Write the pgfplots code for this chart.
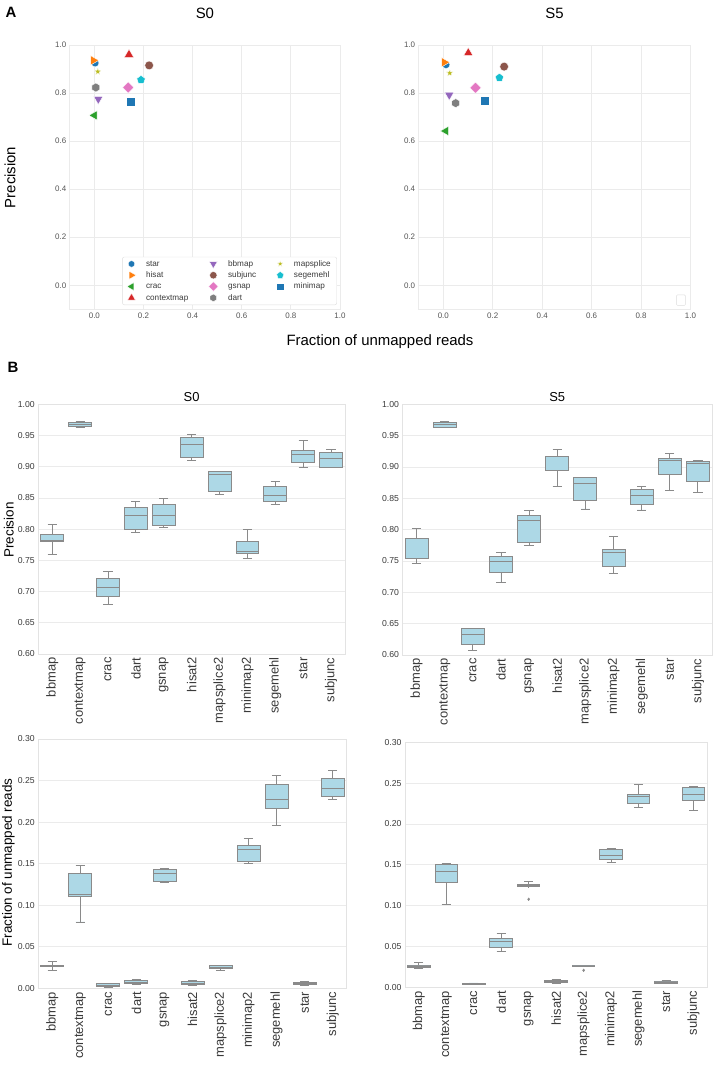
\documentclass[border=0pt]{standalone}
\usepackage{fontspec}
\setmainfont{Liberation Sans}
\usepackage{pgfplots}
\usepackage{pgfplotstable}
\pgfplotsset{compat=1.18}
\usepgfplotslibrary{statistics}

\definecolor{tabblue}{HTML}{1F77B4}
\definecolor{taborange}{HTML}{FF7F0E}
\definecolor{tabgreen}{HTML}{2CA02C}
\definecolor{tabred}{HTML}{D62728}
\definecolor{tabpurple}{HTML}{9467BD}
\definecolor{tabbrown}{HTML}{8C564B}
\definecolor{tabpink}{HTML}{E377C2}
\definecolor{tabgray}{HTML}{7F7F7F}
\definecolor{tabolive}{HTML}{BCBD22}
\definecolor{tabcyan}{HTML}{17BECF}
\definecolor{lblue}{HTML}{ADD8E6}
\definecolor{boxedge}{HTML}{8A8A8A}
\definecolor{gridc}{HTML}{EBEBEB}
\definecolor{axc}{HTML}{E3E3E3}
\definecolor{tickA}{HTML}{555555}
\definecolor{tickB}{HTML}{3A3A3A}
\definecolor{legc}{HTML}{DDDDDD}

\pgfdeclareplotmark{fstar}{%
  \pgfpathmoveto{\pgfpointpolar{90}{\pgfplotmarksize}}%
  \pgfpathlineto{\pgfpointpolar{126}{0.42\pgfplotmarksize}}%
  \pgfpathlineto{\pgfpointpolar{162}{\pgfplotmarksize}}%
  \pgfpathlineto{\pgfpointpolar{198}{0.42\pgfplotmarksize}}%
  \pgfpathlineto{\pgfpointpolar{234}{\pgfplotmarksize}}%
  \pgfpathlineto{\pgfpointpolar{270}{0.42\pgfplotmarksize}}%
  \pgfpathlineto{\pgfpointpolar{306}{\pgfplotmarksize}}%
  \pgfpathlineto{\pgfpointpolar{342}{0.42\pgfplotmarksize}}%
  \pgfpathlineto{\pgfpointpolar{18}{\pgfplotmarksize}}%
  \pgfpathlineto{\pgfpointpolar{54}{0.42\pgfplotmarksize}}%
  \pgfpathclose\pgfusepathqfillstroke}
\pgfdeclareplotmark{hexa}{%
  \pgfpathmoveto{\pgfpointpolar{90}{\pgfplotmarksize}}%
  \pgfpathlineto{\pgfpointpolar{150}{\pgfplotmarksize}}%
  \pgfpathlineto{\pgfpointpolar{210}{\pgfplotmarksize}}%
  \pgfpathlineto{\pgfpointpolar{270}{\pgfplotmarksize}}%
  \pgfpathlineto{\pgfpointpolar{330}{\pgfplotmarksize}}%
  \pgfpathlineto{\pgfpointpolar{30}{\pgfplotmarksize}}%
  \pgfpathclose\pgfusepathqfillstroke}

% scatter data: x = fraction unmapped, y = precision
\pgfplotstableread{
tool x0 y0 x5 y5
star 0.003 0.925 0.011 0.918
bbmap 0.016 0.775 0.024 0.792
mapsplice 0.014 0.889 0.026 0.883
hisat -0.004 0.936 0.004 0.928
subjunc 0.223 0.915 0.246 0.910
segemehl 0.190 0.855 0.227 0.864
crac 0.000 0.707 0.010 0.642
gsnap 0.138 0.823 0.130 0.822
minimap 0.147 0.765 0.169 0.769
contextmap 0.141 0.960 0.101 0.967
dart 0.006 0.823 0.050 0.758
}\scat

\pgfplotsset{
  Aax/.style={scale only axis, xmin=-0.1, xmax=1.0, ymin=-0.1, ymax=1.0,
    xtick={0,0.2,0.4,0.6,0.8,1.0}, ytick={0,0.2,0.4,0.6,0.8,1.0},
    grid=major, grid style={draw=gridc, line width=0.8bp},
    axis line style={draw=gridc, line width=0.8bp},
    major tick length=0pt,
    tick label style={font=\fontsize{8}{9}\selectfont, text=tickA,
      /pgf/number format/fixed, /pgf/number format/fixed zerofill,
      /pgf/number format/precision=1, /pgf/number format/assume math mode=true},
    title style={font=\fontsize{15}{18}\selectfont, at={(0.5,1)}, anchor=center, yshift=25.5bp},
    height=264.3bp},
  Bax/.style={scale only axis, xmin=-0.5, xmax=10.5,
    xtick={0,1,2,3,4,5,6,7,8,9,10},
    xticklabels={bbmap,contextmap,crac,dart,gsnap,hisat2,mapsplice2,minimap2,segemehl,star,subjunc},
    xticklabel style={rotate=90, anchor=east, font=\fontsize{13}{15}\selectfont, text=tickB},
    ymajorgrids, grid style={draw=gridc, line width=0.8bp},
    axis line style={draw=axc, line width=0.8bp},
    major tick length=0pt,
    yticklabel style={font=\fontsize{8.7}{10}\selectfont, text=tickB,
      /pgf/number format/fixed, /pgf/number format/fixed zerofill,
      /pgf/number format/precision=2, /pgf/number format/assume math mode=true},
    title style={font=\fontsize{13}{15}\selectfont, at={(0.5,1)}, anchor=center, yshift=1.3bp},
    boxplot/draw direction=y, boxplot/box extend=0.82, boxplot/whisker extend=0.33},
  bxs/.style={fill=lblue, draw=boxedge, line width=0.9bp, solid},
  mstar/.style={only marks, mark=*, mark size=3.9bp, color=tabblue, mark options={draw=white, line width=0.4bp}},
  mbbmap/.style={only marks, mark=triangle*, mark size=5.4bp, color=tabpurple, mark options={draw=white, line width=0.4bp, rotate=180}},
  mmapsplice/.style={only marks, mark=fstar, mark size=3.6bp, color=tabolive, mark options={draw=white, line width=0.3bp}},
  mhisat/.style={only marks, mark=triangle*, mark size=5.4bp, color=taborange, mark options={draw=white, line width=0.4bp, rotate=-90}},
  msubjunc/.style={only marks, mark=*, mark size=4.4bp, color=tabbrown, mark options={draw=white, line width=0.4bp}},
  msegemehl/.style={only marks, mark=pentagon*, mark size=4.4bp, color=tabcyan, mark options={draw=white, line width=0.4bp}},
  mcrac/.style={only marks, mark=triangle*, mark size=5.4bp, color=tabgreen, mark options={draw=white, line width=0.4bp, rotate=90}},
  mgsnap/.style={only marks, mark=square*, mark size=4bp, color=tabpink, mark options={draw=white, line width=0.4bp, rotate=45}},
  mminimap/.style={only marks, mark=square*, mark size=4.4bp, color=tabblue, mark options={draw=white, line width=0.4bp}},
  mcontextmap/.style={only marks, mark=triangle*, mark size=5.4bp, color=tabred, mark options={draw=white, line width=0.4bp}},
  mdart/.style={only marks, mark=hexa, mark size=4.5bp, color=tabgray, mark options={draw=white, line width=0.4bp}},
  sel/.style={x filter/.expression={\coordindex==#1 ? x : nan}},
}

% one box: position, lower whisker, lower quartile, median, upper quartile, upper whisker
\newcommand{\bp}[6]{%
  \addplot[bxs, boxplot prepared={draw position=#1, lower whisker=#2, lower quartile=#3, median=#4, upper quartile=#5, upper whisker=#6}] coordinates {};}

\begin{document}
\begin{tikzpicture}
\useasboundingbox (0,0) rectangle (714bp,1065bp);

% ---------- Panel A ----------
\begin{axis}[Aax, at={(69.8bp,755.7bp)}, anchor=south west, width=270.2bp, title={S0},
  legend columns=3, legend cell align=left,
  legend image code/.code={\draw[#1, /tikz/every mark/.append style={scale=0.85}] plot coordinates {(0bp,0bp)};},
  legend style={at={(0.194,0.016)}, anchor=south west, draw=legc, fill=white, rounded corners=2bp,
    font=\fontsize{8.2}{10}\selectfont, text=tickB, inner xsep=4.5bp, inner ysep=1.5bp,
    /tikz/every odd column/.append style={column sep=8.5bp},
    /tikz/every even column/.append style={column sep=18.7bp},
    nodes={inner sep=1.5bp, text height=6.3bp, text depth=1.7bp}, row sep=0.3bp}]
\addplot[mstar, sel=0] table[x=x0, y=y0] {\scat}; \addlegendentry{star}
\addplot[mbbmap, sel=1] table[x=x0, y=y0] {\scat}; \addlegendentry{bbmap}
\addplot[mmapsplice, sel=2] table[x=x0, y=y0] {\scat}; \addlegendentry{mapsplice}
\addplot[mhisat, sel=3] table[x=x0, y=y0] {\scat}; \addlegendentry{hisat}
\addplot[msubjunc, sel=4] table[x=x0, y=y0] {\scat}; \addlegendentry{subjunc}
\addplot[msegemehl, sel=5] table[x=x0, y=y0] {\scat}; \addlegendentry{segemehl}
\addplot[mcrac, sel=6] table[x=x0, y=y0] {\scat}; \addlegendentry{crac}
\addplot[mgsnap, sel=7] table[x=x0, y=y0] {\scat}; \addlegendentry{gsnap}
\addplot[mminimap, sel=8] table[x=x0, y=y0] {\scat}; \addlegendentry{minimap}
\addplot[mcontextmap, sel=9] table[x=x0, y=y0] {\scat}; \addlegendentry{contextmap}
\addplot[mdart, sel=10] table[x=x0, y=y0] {\scat}; \addlegendentry{dart}
\end{axis}

\begin{axis}[Aax, at={(418.6bp,755.7bp)}, anchor=south west, width=271.9bp, title={S5},
  legend style={at={(0.982,0.014)}, anchor=south east, draw=legc, fill=white, rounded corners=1bp, inner sep=2.5bp}]
\addlegendimage{empty legend}\addlegendentry{}
\addplot[mstar, sel=0, forget plot] table[x=x5, y=y5] {\scat};
\addplot[mbbmap, sel=1, forget plot] table[x=x5, y=y5] {\scat};
\addplot[mmapsplice, sel=2, forget plot] table[x=x5, y=y5] {\scat};
\addplot[mhisat, sel=3, forget plot] table[x=x5, y=y5] {\scat};
\addplot[msubjunc, sel=4, forget plot] table[x=x5, y=y5] {\scat};
\addplot[msegemehl, sel=5, forget plot] table[x=x5, y=y5] {\scat};
\addplot[mcrac, sel=6, forget plot] table[x=x5, y=y5] {\scat};
\addplot[mgsnap, sel=7, forget plot] table[x=x5, y=y5] {\scat};
\addplot[mminimap, sel=8, forget plot] table[x=x5, y=y5] {\scat};
\addplot[mcontextmap, sel=9, forget plot] table[x=x5, y=y5] {\scat};
\addplot[mdart, sel=10, forget plot] table[x=x5, y=y5] {\scat};
\end{axis}

\node[font=\fontsize{15}{18}\selectfont\bfseries] at (11bp,1053bp) {A};
\node[font=\fontsize{15}{18}\selectfont, rotate=90] at (10bp,887.5bp) {Precision};
\node[font=\fontsize{15}{18}\selectfont] at (380bp,723bp) {Fraction of unmapped reads};

% ---------- Panel B ----------
\node[font=\fontsize{15}{18}\selectfont\bfseries] at (13bp,698bp) {B};

\begin{axis}[Bax, at={(38.3bp,411bp)}, anchor=south west, width=306.7bp, height=249.7bp,
  ymin=0.6, ymax=1.0, ytick={0.60,0.65,0.70,0.75,0.80,0.85,0.90,0.95,1.00}, title={S0}]
\bp{0}{0.760}{0.781}{0.782}{0.792}{0.808}
\bp{1}{0.963}{0.965}{0.968}{0.971}{0.9725}
\bp{2}{0.680}{0.6914}{0.7064}{0.721}{0.732}
\bp{3}{0.795}{0.800}{0.8227}{0.8355}{0.845}
\bp{4}{0.802}{0.806}{0.8227}{0.840}{0.849}
\bp{5}{0.910}{0.9145}{0.935}{0.947}{0.952}
\bp{6}{0.8556}{0.860}{0.888}{0.8925}{0.893}
\bp{7}{0.7535}{0.7615}{0.764}{0.780}{0.800}
\bp{8}{0.839}{0.845}{0.8543}{0.8687}{0.8757}
\bp{9}{0.899}{0.907}{0.9197}{0.926}{0.9414}
\bp{10}{0.8995}{0.8995}{0.9138}{0.9235}{0.9277}
\end{axis}

\begin{axis}[Bax, at={(402.5bp,410bp)}, anchor=south west, width=309.5bp, height=250.7bp,
  ymin=0.6, ymax=1.0, ytick={0.60,0.65,0.70,0.75,0.80,0.85,0.90,0.95,1.00}, title={S5}]
\bp{0}{0.746}{0.7545}{0.786}{0.7863}{0.802}
\bp{1}{0.963}{0.9634}{0.968}{0.9703}{0.9724}
\bp{2}{0.6065}{0.617}{0.6326}{0.6426}{0.643}
\bp{3}{0.7153}{0.7312}{0.7487}{0.758}{0.764}
\bp{4}{0.7747}{0.780}{0.8144}{0.8229}{0.830}
\bp{5}{0.8685}{0.895}{0.917}{0.9173}{0.9279}
\bp{6}{0.833}{0.8468}{0.8743}{0.8828}{0.8839}
\bp{7}{0.730}{0.7407}{0.7635}{0.7688}{0.7884}
\bp{8}{0.8314}{0.8399}{0.8553}{0.8637}{0.8696}
\bp{9}{0.8621}{0.8887}{0.9109}{0.9141}{0.921}
\bp{10}{0.8595}{0.8765}{0.905}{0.9093}{0.9109}
\end{axis}

\begin{axis}[Bax, at={(38.3bp,76.7bp)}, anchor=south west, width=308.4bp, height=249.3bp,
  ymin=0, ymax=0.3, ytick={0,0.05,0.10,0.15,0.20,0.25,0.30}]
\bp{0}{0.021}{0.0257}{0.0265}{0.0277}{0.032}
\bp{1}{0.0798}{0.110}{0.1127}{0.1383}{0.1476}
\bp{2}{0.0016}{0.002}{0.004}{0.0056}{0.006}
\bp{3}{0.0048}{0.0056}{0.0076}{0.0092}{0.0108}
\bp{4}{0.1275}{0.1283}{0.1387}{0.1435}{0.144}
\bp{5}{0.0032}{0.0044}{0.006}{0.008}{0.0092}
\bp{6}{0.0209}{0.0233}{0.0249}{0.0269}{0.028}
\bp{7}{0.1504}{0.1528}{0.1672}{0.172}{0.1808}
\bp{8}{0.1957}{0.2165}{0.2273}{0.2454}{0.2566}
\bp{9}{0.004}{0.0048}{0.006}{0.0072}{0.008}
\bp{10}{0.2273}{0.2306}{0.2406}{0.253}{0.2626}
\end{axis}

\begin{axis}[Bax, at={(405bp,77.7bp)}, anchor=south west, width=302.3bp, height=245bp,
  ymin=0, ymax=0.3, ytick={0,0.05,0.10,0.15,0.20,0.25,0.30}]
\bp{0}{0.0233}{0.0249}{0.0261}{0.0273}{0.030}
\bp{1}{0.1016}{0.1286}{0.1424}{0.151}{0.1522}
\bp{2}{0.0033}{0.0037}{0.0045}{0.005}{0.0053}
\bp{3}{0.0437}{0.0486}{0.0567}{0.060}{0.0661}
\bp{4}{0.1229}{0.1233}{0.1249}{0.1261}{0.1294}
\bp{5}{0.0053}{0.0061}{0.0073}{0.0082}{0.0098}
\bp{6}{0.0253}{0.0255}{0.0261}{0.0265}{0.0265}
\bp{7}{0.1531}{0.1571}{0.1616}{0.1682}{0.1702}
\bp{8}{0.22}{0.2257}{0.2331}{0.2363}{0.2478}
\bp{9}{0.0049}{0.0053}{0.0065}{0.0073}{0.0078}
\bp{10}{0.2163}{0.2286}{0.2367}{0.2449}{0.2457}
\addplot[only marks, mark=diamond*, mark size=1.4bp, color=boxedge] coordinates {(4,0.1078) (6,0.0208)};
\end{axis}

\node[font=\fontsize{13.5}{16}\selectfont, rotate=90] at (8.7bp,535bp) {Precision};
\node[font=\fontsize{13.5}{16}\selectfont, rotate=90] at (8.5bp,202.5bp) {Fraction of unmapped reads};

\end{tikzpicture}
\end{document}
